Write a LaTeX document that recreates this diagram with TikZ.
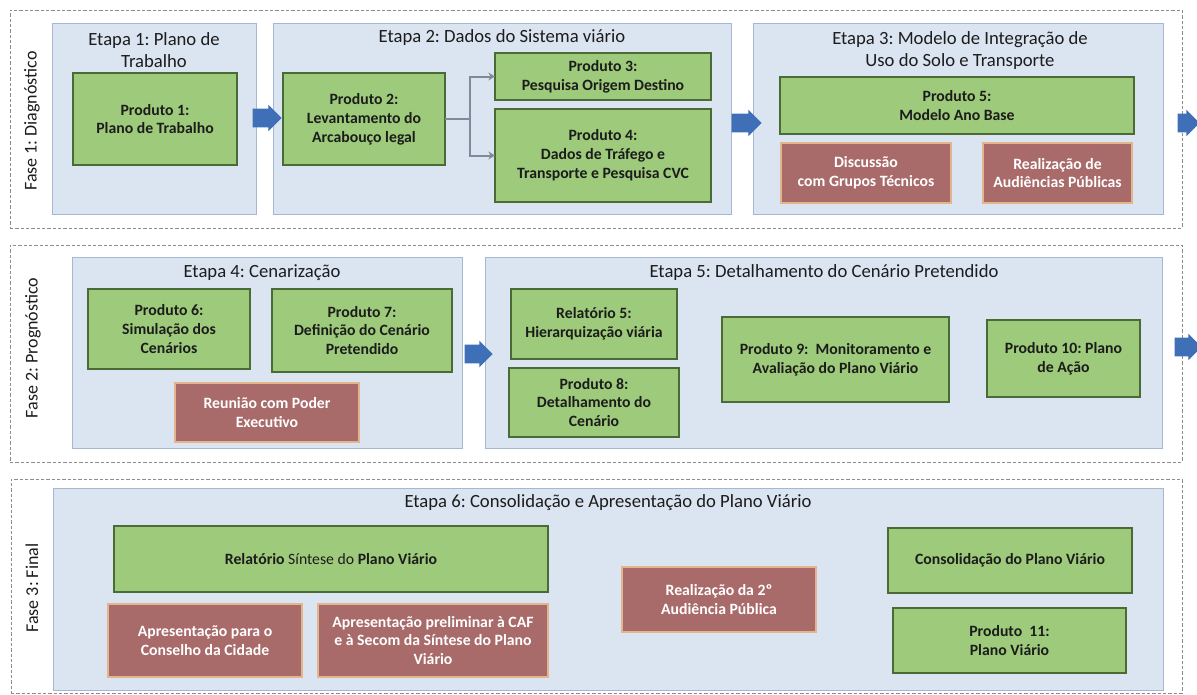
\documentclass[tikz,border=0pt]{standalone}
\usepackage{fontspec}
\setmainfont{Carlito}
\usetikzlibrary{shapes.arrows,arrows.meta}
\definecolor{etapafill}{HTML}{DBE5F1}
\definecolor{etapadraw}{HTML}{A5B8D2}
\definecolor{greenfill}{HTML}{9ECB7B}
\definecolor{greendraw}{HTML}{4A6B35}
\definecolor{redfill}{HTML}{A96A6A}
\definecolor{reddraw}{HTML}{E2B58C}
\definecolor{arrowblue}{HTML}{3F6FB7}
\definecolor{conngray}{HTML}{7F8A9B}
\definecolor{phasedraw}{HTML}{8C8C8C}
\definecolor{txt}{HTML}{1C1C1C}
\newcommand{\bx}[7]{\node[#2, minimum width={(#5-#3)*0.75pt}, minimum height={(#6-#4)*0.75pt}] (#1) at ({(#3+#5)/2},{(#4+#6)/2}) {#7};}
\tikzset{
  every node/.style={inner sep=0pt, outer sep=0pt},
  phasebox/.style={draw=phasedraw, dash pattern=on 2.5pt off 1.5pt, line width=0.5pt},
  etapabox/.style={draw=etapadraw, fill=etapafill, line width=0.7pt},
  greenbox/.style={draw=greendraw, fill=greenfill, line width=1.1pt, align=center, text=txt, font=\fontsize{11.8}{14.2}\selectfont\bfseries},
  redbox/.style={draw=reddraw, fill=redfill, line width=0.8pt, align=center, text=white, font=\fontsize{11.8}{14.2}\selectfont\bfseries},
  titletext/.style={align=center, text=txt, font=\fontsize{14}{16.5}\selectfont},
  phaselabel/.style={rotate=90, text=txt, font=\fontsize{13.5}{15}\selectfont},
  bluearr/.style={single arrow, fill=arrowblue, draw=none, inner ysep=6.75pt, inner xsep=0pt, single arrow head extend=3pt, minimum width=0pt},
  conn/.style={draw=conngray, line width=1.5pt, -{Stealth[length=5pt,width=6pt]}},
}
\begin{document}
\frenchspacing
\begin{tikzpicture}[x=0.75pt,y=-0.75pt]
\useasboundingbox (0,0) rectangle (1197,694);
% ---------- Fase 1 ----------
\bx{ph1}{phasebox}{10}{10}{1182}{228}{}
\node[phaselabel] (f1) at (32,121) {Fase 1: Diagnóstico};
\bx{e1}{etapabox}{52}{23}{256}{214}{}
\node[titletext] (t1) at (154,50) {Etapa 1: Plano de\\Trabalho};
\bx{e2}{etapabox}{273}{23}{731}{214}{}
\node[titletext] (t2) at (502,38) {Etapa 2: Dados do Sistema viário};
\bx{e3}{etapabox}{753}{23}{1163}{214}{}
\node[titletext] (t3) at (960,51) {Etapa 3: Modelo de Integração de\\Uso do Solo e Transporte};
\bx{p1}{greenbox}{73}{73}{237}{165}{Produto 1:\\Plano de Trabalho}
\bx{p2}{greenbox}{283}{73}{445}{165}{Produto 2:\\Levantamento do\\Arcabouço legal}
\bx{p3}{greenbox}{495}{53}{711}{100}{Produto 3:\\Pesquisa Origem Destino}
\bx{p4}{greenbox}{495}{109}{711}{202}{Produto 4:\\Dados de Tráfego e\\Transporte e Pesquisa CVC}
\bx{p5}{greenbox}{780}{77}{1134}{134}{Produto 5:\\Modelo Ano Base}
\bx{r1}{redbox}{781}{143}{951}{203}{Discussão\\com Grupos Técnicos}
\bx{r2}{redbox}{983}{143}{1132}{203}{Realização de\\Audiências Públicas}
\draw[conn] (p2.east) -- ++(25,0) coordinate (j) |- (p3.west);
\draw[conn] (j) |- (p4.west);
% ---------- Fase 2 ----------
\bx{ph2}{phasebox}{10}{245}{1182}{462}{}
\node[phaselabel] (f2) at (33,348) {Fase 2: Prognóstico};
\bx{e4}{etapabox}{72}{257}{462}{448}{}
\node[titletext] (t4) at (262,273) {Etapa 4: Cenarização};
\bx{p6}{greenbox}{88}{289}{250}{369}{Produto 6:\\Simulação dos\\Cenários}
\bx{p7}{greenbox}{272}{289}{452}{372}{Produto 7:\\Definição do Cenário\\Pretendido}
\bx{r3}{redbox}{175}{383}{359}{442}{Reunião com Poder\\Executivo}
\bx{e5}{etapabox}{485}{257}{1162}{448}{}
\node[titletext] (t5) at (824,273) {Etapa 5: Detalhamento do Cenário Pretendido};
\bx{rel5}{greenbox}{511}{289}{677}{359}{Relatório 5:\\Hierarquização viária}
\bx{p8}{greenbox}{509}{368}{679}{437}{Produto 8:\\Detalhamento do\\Cenário}
\bx{p9}{greenbox}{722}{317}{949}{402}{Produto 9:~ Monitoramento e\\Avaliação do Plano Viário}
\bx{p10}{greenbox}{987}{320}{1140}{397}{Produto 10: Plano\\de Ação}
% ---------- Fase 3 ----------
\bx{ph3}{phasebox}{11}{479}{1182}{693}{}
\node[phaselabel] (f3) at (32,588) {Fase 3: Final};
\bx{e6}{etapabox}{53}{488}{1163}{690}{}
\node[titletext] (t6) at (608,503) {Etapa 6: Consolidação e Apresentação do Plano Viário};
\bx{rs}{greenbox}{114}{526}{548}{592}{Relatório {\mdseries Síntese do} Plano Viário}
\bx{r4}{redbox}{108}{604}{302}{677}{Apresentação para o\\Conselho da Cidade}
\bx{r5}{redbox}{318}{604}{548}{677}{Apresentação preliminar à CAF\\e à Secom da Síntese do Plano\\Viário}
\bx{r6}{redbox}{622}{567}{816}{632}{Realização da 2º\\Audiência Pública}
\bx{cons}{greenbox}{888}{528}{1132}{593}{Consolidação do Plano Viário}
\bx{p11}{greenbox}{893}{608}{1126}{673}{Produto~ 11:\\Plano Viário}
% ---------- block arrows ----------
\node[bluearr, minimum height=29*0.75pt] (a1) at (262.5,118) {};
\node[bluearr, minimum height=30*0.75pt] (a2) at (742,123) {};
\node[bluearr, minimum height=22*0.75pt] (a3) at (1184,123) {};
\node[bluearr, minimum height=28*0.75pt] (a4) at (474,354) {};
\node[bluearr, minimum height=27*0.75pt] (a5) at (1183.5,347) {};
\end{tikzpicture}
\end{document}
